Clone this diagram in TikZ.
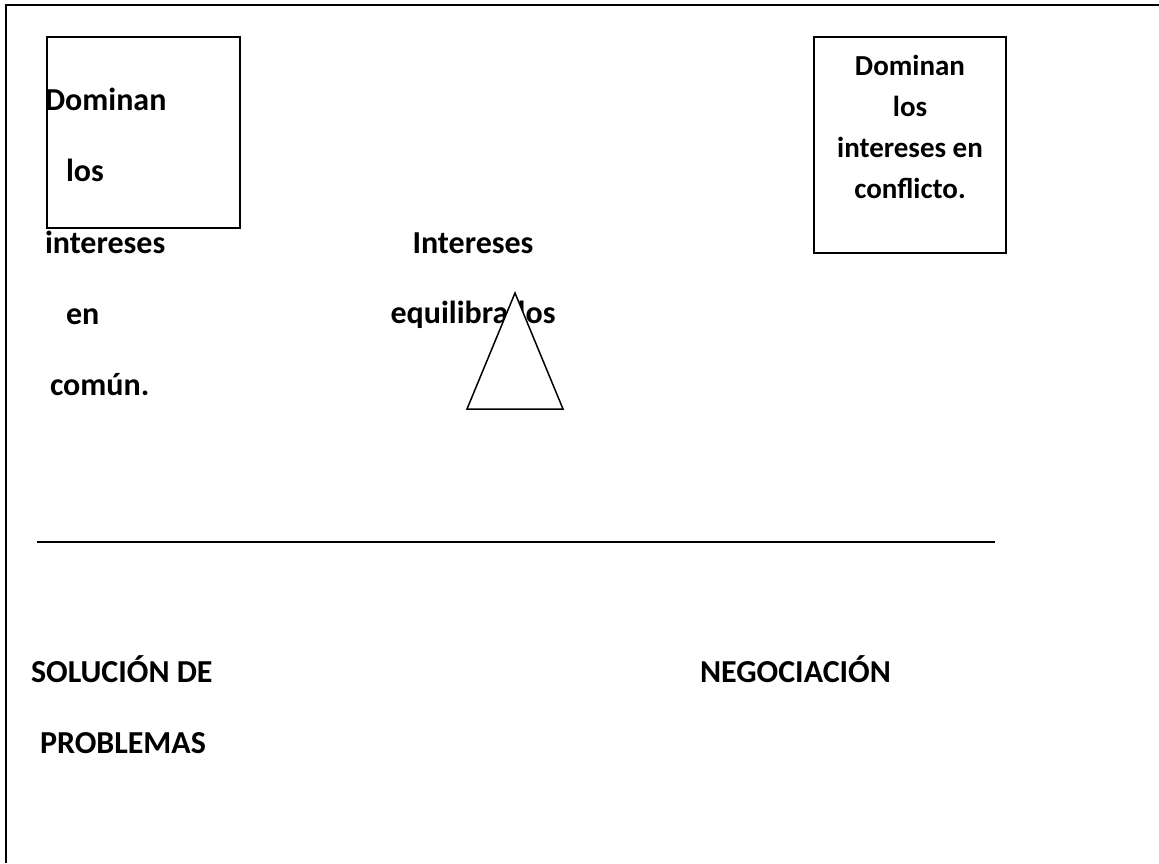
\documentclass[tikz,border=0pt]{standalone}
\usepackage{fontspec}
\setmainfont{Carlito}
\begin{document}
\begin{tikzpicture}[x=1pt,y=-1pt,
  lbl/.style={inner sep=0pt,outer sep=0pt,font=\bfseries\fontsize{32}{32}\selectfont},
  rlbl/.style={inner sep=0pt,outer sep=0pt,anchor=base,font=\bfseries\fontsize{29}{29}\selectfont},
  frame/.style={line width=2pt,black},
  boxline/.style={line width=1.5pt,black}]
\useasboundingbox (0,0) rectangle (1159,863);
% outer frame (top and left only)
\draw[frame] (1159,5) -- (6,5) -- (6,863);
% left box
\draw[boxline] (47,37) rectangle (240,228);
\node[lbl,anchor=base west] (l1) at (45,110) {Dominan};
\node[lbl,anchor=base west] (l2) at (66,181) {los};
\node[lbl,anchor=base west] (l3) at (45,253) {intereses};
\node[lbl,anchor=base west] (l4) at (66,324) {en};
\node[lbl,anchor=base west] (l5) at (50,395) {común.};
% right box
\draw[boxline] (814,37) rectangle (1006,253);
\node[rlbl] (r1) at (910,75) {Dominan};
\node[rlbl] (r2) at (910,116) {los};
\node[rlbl] (r3) at (910,157) {intereses en};
\node[rlbl] (r4) at (910,198) {conflicto.};
% middle
\node[lbl,anchor=base] (m1) at (473,253) {Intereses};
\node[lbl,anchor=base] (m2) at (473,323) {equilibrados};
\coordinate (tA) at (515,293);
\coordinate (tB) at (467,409);
\coordinate (tC) at (563,409);
\draw[boxline,fill=white,line join=miter] (tA) -- (tB) -- (tC) -- cycle;
% rule
\coordinate (h1) at (37,542);
\coordinate (h2) at (995,542);
\draw[line width=2.5pt] (h1) -- (h2);
% bottom labels
\node[lbl,anchor=base west] (b1) at (31,682) {SOLUCIÓN DE};
\node[lbl,anchor=base west] (b2) at (40,753) {PROBLEMAS};
\node[lbl,anchor=base west] (b3) at (700,682) {NEGOCIACIÓN};
\end{tikzpicture}
\end{document}
